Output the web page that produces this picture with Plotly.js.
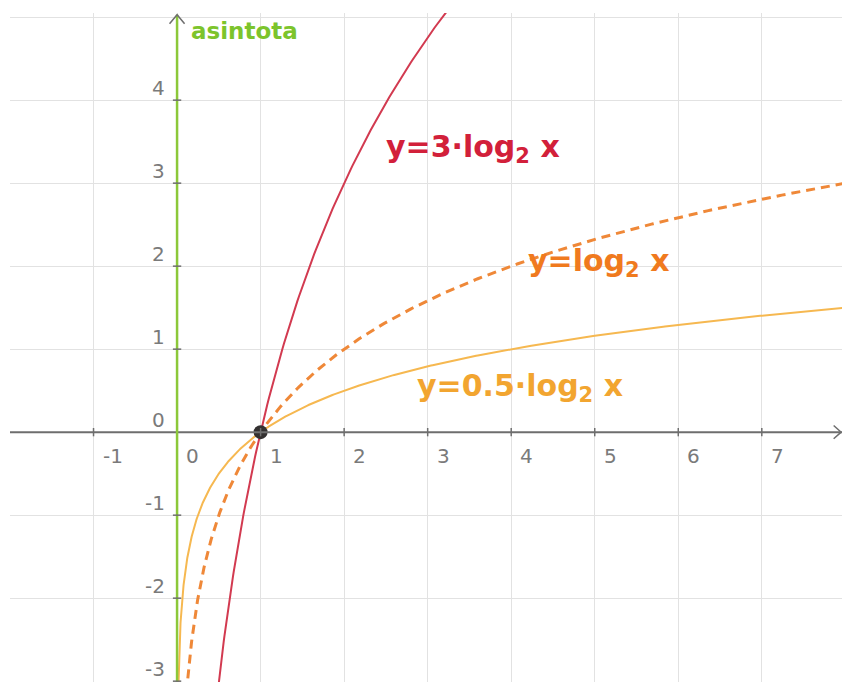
<!DOCTYPE html>
<html>
<head>
<meta charset="utf-8">
<script src="https://cdn.plot.ly/plotly-3.0.1.min.js"></script>
<style>
  html, body { margin: 0; padding: 0; background: #ffffff; }
  #chart { width: 842px; height: 682px; }
</style>
</head>
<body>
<div id="chart"></div>
<script>
// Logarithmic functions y = k·log2(x), with the vertical asymptote x = 0
const coefficients = [3, 1, 0.5];
const curveLabels = ['y=3·log<sub>2</sub> x', 'y=log<sub>2</sub> x', 'y=0.5·log<sub>2</sub> x'];
const lineColors = ['#d23a50', '#ef8838', '#f6b850'];
const textColors = ['#d2203a', '#f07a1e', '#f2a530'];
const lineDashes = ['solid', '9px,6px', 'solid'];
const lineWidths = [2, 3, 2];
// where each function's name is written, in axis units
const labelX = [3.54, 5.04, 4.11];
const labelY = [3.42, 2.04, 0.54];

const xTicks = [-1, 0, 1, 2, 3, 4, 5, 6, 7];
const yTicks = [4, 3, 2, 1, 0, -1, -2, -3];
const commonPoint = { x: [1], y: [0] };
const asymptoteX = 0;
const asymptoteText = 'asintota';

const xRange = [-2, 7.96];
const yRange = [-3.01, 5.05];

// sample points, denser near the asymptote where the curves are steep
const xs = [];
for (let e = -12; e <= 0; e += 0.02) xs.push(Math.pow(2, e));
for (let v = 1.02; v <= xRange[1] + 0.05; v += 0.02) xs.push(v);

const traces = coefficients.map((k, i) => ({
  type: 'scatter',
  mode: 'lines',
  x: xs,
  y: xs.map(v => k * Math.log2(v)),
  line: { color: lineColors[i], width: lineWidths[i], dash: lineDashes[i] },
  hoverinfo: 'skip',
  showlegend: false
}));

traces.push({
  type: 'scatter',
  mode: 'markers',
  x: commonPoint.x,
  y: commonPoint.y,
  marker: { color: '#333030', size: 14 },
  hoverinfo: 'skip',
  showlegend: false
});

const tickFont = { family: 'DejaVu Sans', size: 20, color: '#7a7a7a' };
const annotations = [];

xTicks.forEach(t => annotations.push({
  x: t, y: 0, xref: 'x', yref: 'y', text: String(t), showarrow: false,
  xanchor: 'left', yanchor: 'top', xshift: 7, yshift: -10, font: tickFont
}));
yTicks.forEach(t => annotations.push({
  x: 0, y: t, xref: 'x', yref: 'y', text: String(t), showarrow: false,
  xanchor: 'right', yanchor: 'bottom', xshift: -10, yshift: -2, font: tickFont
}));

curveLabels.forEach((txt, i) => annotations.push({
  x: labelX[i], y: labelY[i], xref: 'x', yref: 'y', text: txt, showarrow: false,
  xanchor: 'center', yanchor: 'middle',
  font: { family: 'DejaVu Sans', size: 30, color: textColors[i], weight: 'bold' }
}));

annotations.push({
  x: asymptoteX, y: yRange[1], xref: 'x', yref: 'y', text: asymptoteText, showarrow: false,
  xanchor: 'left', yanchor: 'top', xshift: 12, yshift: -3,
  font: { family: 'DejaVu Sans', size: 23, color: '#7cc42c', weight: 'bold' }
});

const axisGray = '#6e6e6e';
const shapes = [
  // x axis
  { type: 'line', xref: 'x', yref: 'y', x0: xRange[0], x1: xRange[1], y0: 0, y1: 0,
    line: { color: axisGray, width: 2 } },
  // arrowhead of the x axis
  { type: 'path', xref: 'x', yref: 'y',
    path: `M ${xRange[1] - 0.1} 0.08 L ${xRange[1] - 0.01} 0 L ${xRange[1] - 0.1} -0.08`,
    line: { color: axisGray, width: 1.5 } },
  // vertical asymptote (also the y axis)
  { type: 'line', xref: 'x', yref: 'y', x0: asymptoteX, x1: asymptoteX, y0: yRange[0], y1: yRange[1] - 0.02,
    line: { color: '#8cc83a', width: 2.5 } },
  // arrowhead of the y axis
  { type: 'path', xref: 'x', yref: 'y',
    path: `M ${asymptoteX - 0.09} ${yRange[1] - 0.13} L ${asymptoteX} ${yRange[1] - 0.02} L ${asymptoteX + 0.09} ${yRange[1] - 0.13}`,
    line: { color: axisGray, width: 1.5 } }
];

// small tick marks where the grid crosses each axis
xTicks.filter(t => t !== 0).forEach(t => shapes.push({
  type: 'line', xref: 'x', yref: 'y', x0: t, x1: t, y0: -0.05, y1: 0.05,
  line: { color: axisGray, width: 1.5 }
}));
yTicks.filter(t => t !== 0).forEach(t => shapes.push({
  type: 'line', xref: 'x', yref: 'y', x0: -0.05, x1: 0.05, y0: t, y1: t,
  line: { color: axisGray, width: 1.5 }
}));

const layout = {
  width: 842,
  height: 682,
  margin: { l: 10, r: 0, t: 13, b: 0, pad: 0 },
  paper_bgcolor: '#ffffff',
  plot_bgcolor: '#ffffff',
  xaxis: {
    range: xRange, dtick: 1, tick0: 0, showgrid: true, gridcolor: '#e2e2e2', gridwidth: 1,
    zeroline: false, showticklabels: false, ticks: '', showline: false, fixedrange: true
  },
  yaxis: {
    range: yRange, dtick: 1, tick0: 0, showgrid: true, gridcolor: '#e2e2e2', gridwidth: 1,
    zeroline: false, showticklabels: false, ticks: '', showline: false, fixedrange: true
  },
  annotations: annotations,
  shapes: shapes,
  showlegend: false
};

Plotly.newPlot('chart', traces, layout, { displayModeBar: false, staticPlot: true });
</script>
</body>
</html>
